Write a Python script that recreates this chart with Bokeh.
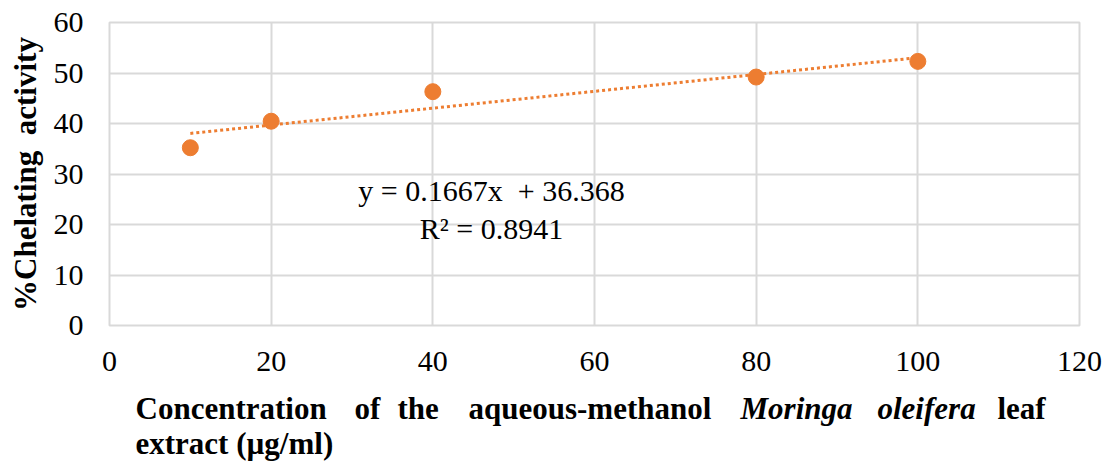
from bokeh.plotting import figure
from bokeh.models import FixedTicker, Range1d, ColumnDataSource
from bokeh.layouts import column
from bokeh.core.properties import value
from bokeh.embed import file_html
from bokeh.resources import INLINE

# ---- data ----
concentration = [10, 20, 40, 80, 100]
chelating = [35.2, 40.45, 46.3, 49.2, 52.3]
trend_slope = 0.1667
trend_intercept = 36.368
x_ticks = [0, 20, 40, 60, 80, 100, 120]
y_ticks = [0, 10, 20, 30, 40, 50, 60]
eq_text = "y = 0.1667x\u00a0 + 36.368"
r2_text = "R\u00b2 = 0.8941"
y_label = "%Chelating\u00a0\u00a0activity"
x_label_line1 = ["Concentration", "of", "the", "aqueous-methanol", "Moringa", "oleifera", "leaf"]
x_label_italic = [False, False, False, False, True, True, False]
x_label_line2 = "extract (\u00b5g/ml)"

ORANGE = "#ED7D31"
GRID = "#D9D9D9"
FONT = "Liberation Serif"

W = 1105
FL, FT, FW, FH = 109, 22, 970, 303
FR = W - FL - FW
H1 = 385          # height of chart part
H2 = 461 - H1     # height of x-title strip
XMIN, XMAX, YMIN, YMAX = 0, 120, 0, 60

p = figure(frame_width=FW, frame_height=FH,
           min_border_left=FL, min_border_right=FR,
           min_border_top=FT, min_border_bottom=H1 - FT - FH,
           x_range=Range1d(XMIN, XMAX), y_range=Range1d(YMIN, YMAX),
           output_backend="svg", toolbar_location=None,
           background_fill_color="white", border_fill_color="white")

p.outline_line_color = GRID
p.outline_line_width = 2

for ax in (p.xaxis[0], p.yaxis[0]):
    ax.axis_line_color = None
    ax.major_tick_line_color = None
    ax.minor_tick_line_color = None
    ax.major_tick_out = 0
    ax.major_tick_in = 0
    ax.major_label_text_font = FONT
    ax.major_label_text_font_size = "30px"
    ax.major_label_text_color = "#000000"

p.xaxis.ticker = FixedTicker(ticks=x_ticks)
p.yaxis.ticker = FixedTicker(ticks=y_ticks)
p.xaxis.major_label_standoff = 26
p.yaxis.major_label_standoff = 26

p.yaxis.axis_label = y_label
p.yaxis.axis_label_text_font = FONT
p.yaxis.axis_label_text_font_size = "31px"
p.yaxis.axis_label_text_font_style = "bold"
p.yaxis.axis_label_text_color = "#000000"
p.yaxis.axis_label_standoff = 8

p.xgrid.ticker = FixedTicker(ticks=x_ticks)
p.ygrid.ticker = FixedTicker(ticks=y_ticks)
for g in (p.xgrid[0], p.ygrid[0]):
    g.grid_line_color = GRID
    g.grid_line_width = 2

# trendline from the stated regression equation
tx = [min(concentration), max(concentration)]
ty = [trend_slope * v + trend_intercept for v in tx]
p.line(tx, ty, line_color=ORANGE, line_width=3, line_dash="3 3")

p.scatter(concentration, chelating, size=16, fill_color=ORANGE, line_color=ORANGE)


def dx(px):
    return XMIN + (px - FL) / FW * (XMAX - XMIN)


def dy(py):
    return YMIN + (FT + FH - py) / FH * (YMAX - YMIN)


# equation annotation (inside plot area)
p.text(x=[dx(491), dx(491)], y=[dy(190), dy(228)], text=[eq_text, r2_text],
       text_align="center", text_baseline="middle", text_font=value(FONT),
       text_font_size="30px", text_color="#000000")

# ---- x-axis title strip (justified line with italic species name) ----
# x range in page pixels so that the strip's frame lines up with the chart's frame
p2 = figure(frame_width=FW, frame_height=H2,
            min_border_left=FL, min_border_right=FR, min_border_top=0, min_border_bottom=0,
            x_range=Range1d(FL, FL + FW), y_range=Range1d(H2, 0),
            x_axis_type=None, y_axis_type=None, output_backend="svg",
            toolbar_location=None,
            background_fill_color="white", border_fill_color="white")
p2.outline_line_color = None
p2.grid.visible = False

word_left = [135, 354, 397, 468, 740, 877, 997]
line1_mid = 408 - H1
line2_mid = 443 - H1
upright = ColumnDataSource(dict(
    x=[lx for lx, it in zip(word_left, x_label_italic) if not it] + [135],
    y=[line1_mid for it in x_label_italic if not it] + [line2_mid],
    t=[w for w, it in zip(x_label_line1, x_label_italic) if not it] + [x_label_line2]))
italic = ColumnDataSource(dict(
    x=[lx for lx, it in zip(word_left, x_label_italic) if it],
    y=[line1_mid for it in x_label_italic if it],
    t=[w for w, it in zip(x_label_line1, x_label_italic) if it]))
p2.text(x="x", y="y", text="t", source=upright, text_align="left",
        text_baseline="middle", text_font=value(FONT), text_font_size="31px",
        text_font_style="bold", text_color="#000000")
p2.text(x="x", y="y", text="t", source=italic, text_align="left",
        text_baseline="middle", text_font=value(FONT), text_font_size="31px",
        text_font_style="bold italic", text_color="#000000")

layout = column(p, p2, spacing=0)
open("out.html", "w").write(file_html(layout, INLINE))
